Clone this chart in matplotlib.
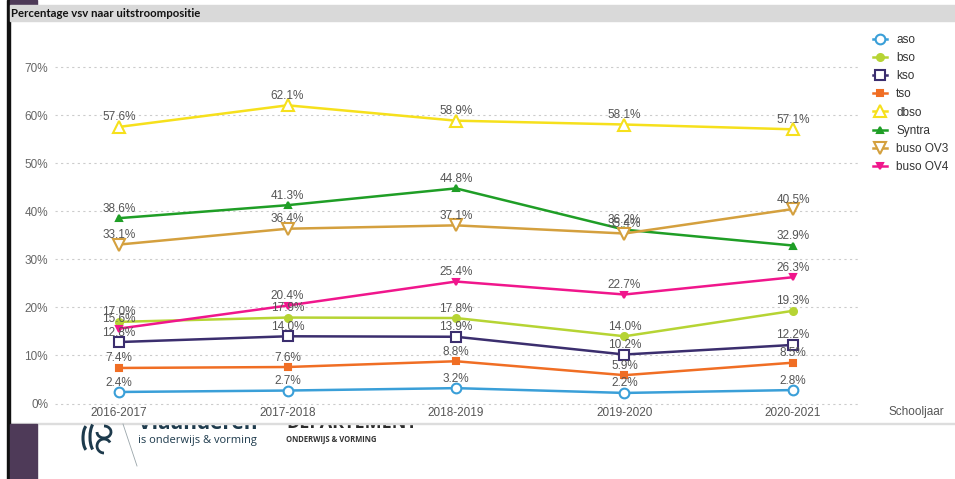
import matplotlib.pyplot as plt
from matplotlib.patches import Rectangle, Arc

plt.rcParams['font.family'] = ['Liberation Sans', 'DejaVu Sans']

years = ["2016-2017", "2017-2018", "2018-2019", "2019-2020", "2020-2021"]
aso = [2.4, 2.7, 3.2, 2.2, 2.8]
bso = [17.0, 17.9, 17.8, 14.0, 19.3]
kso = [12.8, 14.0, 13.9, 10.2, 12.2]
tso = [7.4, 7.6, 8.8, 5.9, 8.5]
dbso = [57.6, 62.1, 58.9, 58.1, 57.1]
syntra = [38.6, 41.3, 44.8, 36.2, 32.9]
buso_ov3 = [33.1, 36.4, 37.1, 35.4, 40.5]
buso_ov4 = [15.6, 20.4, 25.4, 22.7, 26.3]
yticks = [0, 10, 20, 30, 40, 50, 60, 70]

# name, values, colour, marker, size, open marker
series = [
    ("aso", aso, "#3a9fd8", "o", 7, True),
    ("bso", bso, "#b6d434", "o", 5, False),
    ("kso", kso, "#3b2e6e", "s", 7.5, True),
    ("tso", tso, "#f06e24", "s", 5, False),
    ("dbso", dbso, "#f6e01c", "^", 8, True),
    ("Syntra", syntra, "#1f9e26", "^", 5, False),
    ("buso OV3", buso_ov3, "#d4a03e", "v", 8, True),
    ("buso OV4", buso_ov4, "#f0168c", "v", 5, False),
]

W, H = 955, 479
fig = plt.figure(figsize=(W / 100, H / 100), dpi=100)

# slide background in pixel coords
bg = fig.add_axes([0, 0, 1, 1], zorder=0)
bg.set_xlim(0, W)
bg.set_ylim(H, 0)
bg.axis('off')
purple = "#4e3a58"
navy = "#1d3a4c"
bg.text(138, 429, "Vlaanderen", fontsize=15, fontweight='bold', color=navy,
        family='Open Sans', va='baseline', zorder=1)
bg.text(286, 428, "DEPARTEMENT", fontsize=13, fontweight='bold', color='#2b2b2b',
        family='Open Sans', va='baseline', zorder=1)
bg.add_patch(Rectangle((10, 21), W - 10, 402, color='white', zorder=2))
bg.add_patch(Rectangle((10, 423), W - 10, 0.8, color='#dddddd', zorder=3))
bg.add_patch(Rectangle((7, 0), 2.5, H, color='#111111', zorder=3))
bg.add_patch(Rectangle((10, 0), 27, 4.5, color=purple, zorder=3))
bg.add_patch(Rectangle((10, 424), 27, H - 424, color=purple, zorder=3))
bg.add_patch(Rectangle((10, 5), W - 10, 16, color='#d9d9d9', zorder=3))
bg.text(11, 13, "Percentage vsv naar uitstroompositie", fontsize=8.2, fontweight='bold',
        family='Lato', color='#111111', va='center', zorder=4)
bg.plot([123, 137], [424, 466], color='#9aa5aa', lw=0.6, zorder=3)
bg.text(138, 441, "is onderwijs & vorming", fontsize=8, color=navy,
        family='Open Sans', va='center', zorder=3)
bg.text(286, 440, "ONDERWIJS & VORMING", fontsize=5.5, fontweight='bold', color='#333333',
        family='Open Sans', va='center', zorder=3)
# rough Vlaanderen lion
bg.add_patch(Arc((88, 438), 10, 26, theta1=100, theta2=260, color=navy, lw=2.2, zorder=3))
bg.add_patch(Arc((96, 437), 12, 30, theta1=105, theta2=255, color=navy, lw=2.2, zorder=3))
bg.add_patch(Arc((104, 432), 14, 12, theta1=-90, theta2=180, color=navy, lw=2.0, zorder=3))
bg.add_patch(Arc((104, 446), 14, 14, theta1=90, theta2=330, color=navy, lw=2.0, zorder=3))

# chart
left, right, top, bottom = 55, 858, 40, 406
ax = fig.add_axes([left / W, 1 - bottom / H, (right - left) / W, (bottom - top) / H], zorder=5)
ax.set_facecolor('none')
x = list(range(len(years)))

for name, vals, col, mk, ms, hollow in series:
    ax.plot(x, vals, color=col, lw=1.8, marker=mk, markersize=ms,
            markerfacecolor='white' if hollow else col, markeredgecolor=col,
            markeredgewidth=1.5, label=name, clip_on=False)
    for xi, v in zip(x, vals):
        ax.annotate(f"{v:.1f}%", (xi, v), xytext=(0, 2.5), textcoords='offset points',
                    ha='center', va='bottom', fontsize=8.5, color='#555555')

ax.set_xlim(-0.38, 4.386)
ax.set_ylim(-0.52, 75.7)
ax.set_yticks(yticks)
ax.set_yticklabels([f"{t}%" for t in yticks])
ax.set_xticks(x)
ax.set_xticklabels(years)
ax.tick_params(axis='y', length=0, pad=5, labelsize=8.5, labelcolor='#666666')
ax.tick_params(axis='x', length=0, pad=1, labelsize=8.5, labelcolor='#555555')
for s in ax.spines.values():
    s.set_visible(False)
ax.grid(axis='y', color='#cccccc', lw=0.8, linestyle=(0, (2, 3)))
ax.set_axisbelow(True)

fig.text(888 / W, 1 - 412 / H, "Schooljaar", fontsize=8.5, color='#555555', va='center')

handles, labels = ax.get_legend_handles_labels()
fig.legend(handles, labels, loc='upper left', bbox_to_anchor=(873 / W, 1 - 34 / H),
           frameon=False, fontsize=8.5, labelcolor='#333333', handlelength=1.2,
           handletextpad=0.75, labelspacing=0.52, borderaxespad=0, borderpad=0)

fig.savefig("out.png", dpi=100)
